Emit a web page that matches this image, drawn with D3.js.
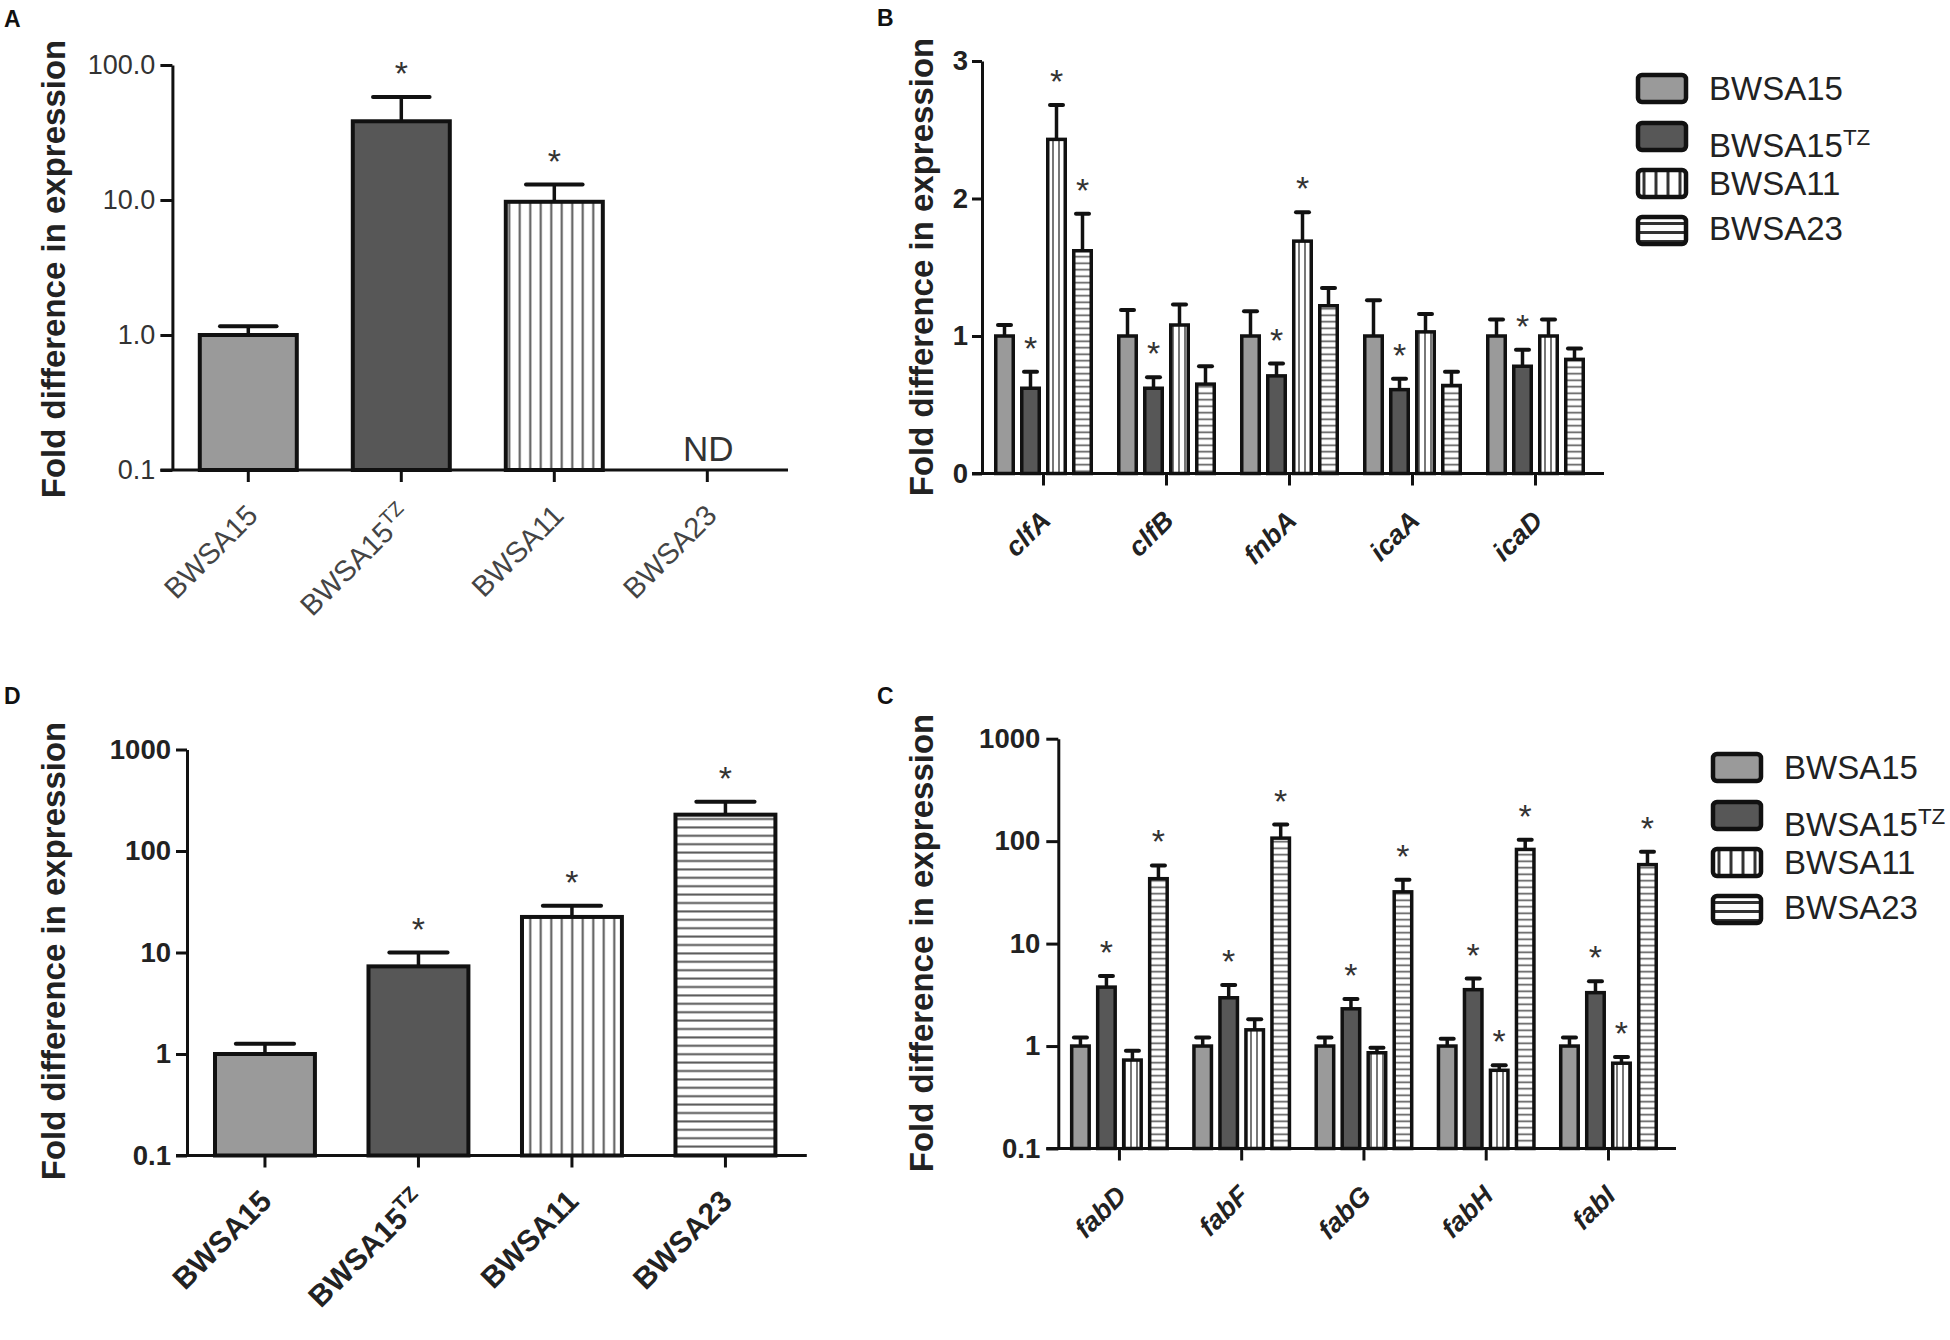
<!DOCTYPE html>
<html><head><meta charset="utf-8">
<script src="https://cdn.jsdelivr.net/npm/d3@7"></script>
<style>
body{margin:0;background:#fff}
svg{display:block}
text{font-family:"Liberation Sans",Arial,Helvetica,sans-serif}
</style>
</head><body>
<svg id="c" width="1950" height="1340"></svg>
<script>
// ---------- DATA ----------
const strains = ["BWSA15", "BWSA15TZ", "BWSA11", "BWSA23"];
const yTitle = "Fold difference in expression";

// Panel A (log scale)
const aValues = [1.0, 38.3, 9.7, null];
const aErrors = [1.16, 58, 13, null];
const aSig = [false, true, true, false];
const aTicks = [0.1, 1, 10, 100];
const aTickLabels = ["0.1", "1.0", "10.0", "100.0"];

// Panel B (linear)
const bGenes = ["clfA", "clfB", "fnbA", "icaA", "icaD"];
const bBWSA15 = [1.0, 1.0, 1.0, 1.0, 1.0];
const bBWSA15Err = [1.08, 1.19, 1.18, 1.26, 1.12];
const bTZ = [0.62, 0.62, 0.71, 0.61, 0.78];
const bTZErr = [0.74, 0.70, 0.80, 0.69, 0.90];
const bBWSA11 = [2.43, 1.08, 1.69, 1.03, 1.0];
const bBWSA11Err = [2.68, 1.23, 1.90, 1.16, 1.12];
const bBWSA23 = [1.62, 0.65, 1.22, 0.64, 0.83];
const bBWSA23Err = [1.89, 0.78, 1.35, 0.74, 0.91];
const bSig = [[false,true,true,true],[false,true,false,false],[false,true,true,false],[false,true,false,false],[false,true,false,false]];
const bTicks = [0, 1, 2, 3];
const bTickLabels = ["0", "1", "2", "3"];

// Panel C (log)
const cGenes = ["fabD", "fabF", "fabG", "fabH", "fabI"];
const cBWSA15 = [1.0, 1.0, 1.0, 1.0, 1.0];
const cBWSA15Err = [1.21, 1.21, 1.21, 1.18, 1.21];
const cTZ = [3.76, 2.96, 2.31, 3.55, 3.32];
const cTZErr = [4.83, 3.95, 2.88, 4.56, 4.3];
const cBWSA11 = [0.73, 1.44, 0.86, 0.58, 0.68];
const cBWSA11Err = [0.90, 1.83, 0.96, 0.65, 0.78];
const cBWSA23 = [43, 107, 32, 83, 59];
const cBWSA23Err = [58, 145, 42, 103, 79];
const cSig = [[false,true,false,true],[false,true,false,true],[false,true,false,true],[false,true,true,true],[false,true,true,true]];
const cTicks = [0.1, 1, 10, 100, 1000];
const cTickLabels = ["0.1", "1", "10", "100", "1000"];

// Panel D (log)
const dValues = [1.0, 7.3, 22.4, 228];
const dErrors = [1.26, 10.0, 28.9, 305];
const dSig = [false, true, true, true];
const dTicks = [0.1, 1, 10, 100, 1000];
const dTickLabels = ["0.1", "1", "10", "100", "1000"];

// ---------- DRAWING ----------
const svg = d3.select("#c");
const defs = svg.append("defs");

function makePatterns(sfx, vSp, hSp, lw, col) {
  const pv = defs.append("pattern").attr("id", "v" + sfx).attr("patternUnits", "userSpaceOnUse")
    .attr("width", vSp).attr("height", 10);
  pv.append("rect").attr("width", vSp).attr("height", 10).attr("fill", "#fff");
  pv.append("line").attr("x1", vSp / 2).attr("x2", vSp / 2).attr("y1", -1).attr("y2", 11)
    .attr("stroke", col).attr("stroke-width", lw);
  const ph = defs.append("pattern").attr("id", "h" + sfx).attr("patternUnits", "userSpaceOnUse")
    .attr("width", 10).attr("height", hSp);
  ph.append("rect").attr("width", 10).attr("height", hSp).attr("fill", "#fff");
  ph.append("line").attr("y1", hSp / 2).attr("y2", hSp / 2).attr("x1", -1).attr("x2", 11)
    .attr("stroke", col).attr("stroke-width", lw);
}
makePatterns("L", 10.5, 8.4, 2, "#555");
makePatterns("S", 6, 6.5, 1.6, "#555");
makePatterns("G", 12, 9, 3, "#333");

const fillFor = (i, s) => ["#9a9a9a", "#575757", `url(#v${s})`, `url(#h${s})`][i];

function addSuper(sel, rel) {
  sel.each(function(d) {
    const t = d3.select(this);
    const label = typeof d === "string" ? d : t.text();
    if (label.endsWith("TZ")) {
      t.text(null);
      t.append("tspan").text(label.slice(0, -2));
      t.append("tspan").attr("font-size", rel).attr("font-style", "normal").attr("dy", "-0.55em").text("TZ");
    }
  });
}

function yAxis(g, y, o) {
  const ax = g.append("g").attr("transform", `translate(${o.ax},0)`)
    .call(d3.axisLeft(y).tickValues(o.ticks).tickFormat((d, i) => o.tickLabels[i])
      .tickSize(o.tickLen).tickSizeOuter(0).tickPadding(o.tickPad));
  ax.attr("font-family", null).attr("font-size", null);
  ax.select(".domain").attr("stroke", "#111").attr("stroke-width", 3);
  ax.selectAll(".tick line").attr("stroke", "#111").attr("stroke-width", 3);
  ax.selectAll(".tick text").attr("font-size", o.tickFs).attr("fill", o.tickColor)
    .attr("font-weight", o.tickBold ? "bold" : "normal");
}

function xAxis(g, x, o, y0, ls) {
  const xa = g.append("g").attr("transform", `translate(0,${y0})`)
    .call(d3.axisBottom(x).tickSize(12).tickSizeOuter(0));
  xa.attr("font-family", null).attr("font-size", null);
  xa.select(".domain").remove();
  xa.selectAll(".tick line").attr("stroke", "#111").attr("stroke-width", 3);
  const t = xa.selectAll(".tick text")
    .attr("x", null).attr("y", null).attr("dy", "0.35em")
    .attr("text-anchor", "end")
    .attr("transform", `translate(${o.lblDx},${o.lblDy}) rotate(-45)`)
    .attr("font-size", ls.fs).attr("fill", ls.color)
    .attr("font-weight", ls.bold ? "bold" : "normal")
    .attr("font-style", ls.italic ? "italic" : "normal");
  addSuper(t, "0.68em");
  g.append("line").attr("x1", o.ax - o.tickLen).attr("x2", o.xEnd).attr("y1", y0).attr("y2", y0)
    .attr("stroke", "#111").attr("stroke-width", 3);
}

function errBar(g, cx, yTop, yErr, capHalf, lw) {
  g.append("line").attr("x1", cx).attr("x2", cx).attr("y1", yTop).attr("y2", yErr)
    .attr("stroke", "#111").attr("stroke-width", lw);
  g.append("line").attr("x1", cx - capHalf).attr("x2", cx + capHalf).attr("y1", yErr).attr("y2", yErr)
    .attr("stroke", "#111").attr("stroke-width", lw + 0.5).attr("stroke-linecap", "round");
}
function star(g, cx, yErr) {
  g.append("text").attr("x", cx).attr("y", yErr - 31 + 19).attr("text-anchor", "middle")
    .attr("font-size", 34).attr("fill", "#333").text("*");
}

function yTitleText(cx, cy) {
  svg.append("text").attr("transform", `translate(${cx},${cy}) rotate(-90)`)
    .attr("text-anchor", "middle").attr("dy", "0.35em")
    .attr("font-size", 33).attr("font-weight", "bold").attr("fill", "#222").text(yTitle);
}
function panelLetter(x, y, l) {
  svg.append("text").attr("x", x).attr("y", y).attr("font-size", 23).attr("font-weight", "bold")
    .attr("fill", "#111").text(l);
}

function simplePanel(o, values, errors, sig) {
  const g = svg.append("g");
  const y = d3.scaleLog().domain(o.domain).range(o.yRange);
  const x = d3.scaleBand().domain(strains).range(o.xRange).paddingInner(o.pi).paddingOuter(o.po);
  const y0 = o.yRange[0];
  const bw = x.bandwidth();
  strains.forEach((s, i) => {
    if (values[i] == null) return;
    const cx = x(s) + bw / 2;
    errBar(g, cx, y(values[i]), y(errors[i]), 0.28 * (bw + 4), 3.5);
    g.append("rect").attr("x", x(s)).attr("width", bw).attr("y", y(values[i]))
      .attr("height", y0 - y(values[i])).attr("fill", fillFor(i, "L"))
      .attr("stroke", "#111").attr("stroke-width", 4);
    if (sig[i]) star(g, cx, y(errors[i]));
  });
  yAxis(g, y, o);
  xAxis(g, x, o, y0, o.xLabel);
  return x;
}

function groupedPanel(o, genes, series, errs, sig) {
  const g = svg.append("g");
  const y = (o.log ? d3.scaleLog() : d3.scaleLinear()).domain(o.domain).range(o.yRange);
  const x = d3.scaleBand().domain(genes).range(o.xRange).paddingInner(0).paddingOuter(0);
  const xi = d3.scaleBand().domain(strains).range([-o.groupW / 2, o.groupW / 2]).paddingInner(0.327);
  const y0 = o.yRange[0];
  const bw = xi.bandwidth();
  genes.forEach((gene, j) => {
    const gc = x(gene) + x.bandwidth() / 2;
    strains.forEach((s, i) => {
      const v = series[i][j], e = errs[i][j];
      const bx = gc + xi(s);
      const cx = bx + bw / 2;
      errBar(g, cx, y(v), y(e), 0.31 * (bw + 3.5), 3.5);
      g.append("rect").attr("x", bx).attr("width", bw).attr("y", y(v))
        .attr("height", y0 - y(v)).attr("fill", fillFor(i, "S"))
        .attr("stroke", "#111").attr("stroke-width", 3.5);
      if (sig[j][i]) star(g, cx, y(e));
    });
  });
  yAxis(g, y, o);
  xAxis(g, x, o, y0, o.xLabel);
}

function legend(x0, y0) {
  const g = svg.append("g").attr("transform", `translate(${x0},${y0})`);
  const boxTop = [0, 48, 95, 142];
  const base = [25, 82, 120, 165];
  strains.forEach((s, i) => {
    g.append("rect").attr("x", 0).attr("y", boxTop[i]).attr("width", 48).attr("height", 27)
      .attr("rx", 4).attr("fill", fillFor(i, "G")).attr("stroke", "#111").attr("stroke-width", 4.5);
    const t = g.append("text").attr("x", 71).attr("y", base[i]).attr("font-size", 33)
      .attr("fill", "#222").text(s);
    addSuper(t, "0.68em");
  });
}

// Panel A
const xA = simplePanel({
  domain: [0.1, 100], yRange: [470, 65], xRange: [172.4, 783.2], pi: 0.366, po: 0.179,
  ax: 172.4, xEnd: 788, ticks: aTicks, tickLabels: aTickLabels, tickLen: 12, tickPad: 5,
  tickFs: 27, tickBold: false, tickColor: "#333", lblDx: 4, lblDy: 40,
  xLabel: {fs: 29, bold: false, italic: false, color: "#444"}
}, aValues, aErrors, aSig);
// ND marker for BWSA23 (not detected)
svg.append("text").attr("x", xA("BWSA23") + xA.bandwidth() / 2 + 1).attr("y", 461)
  .attr("text-anchor", "middle").attr("font-size", 35).attr("fill", "#333").text("ND");

// Panel D
simplePanel({
  domain: [0.1, 1000], yRange: [1155.5, 749.5], xRange: [186.6, 803.8], pi: 0.349, po: 0.185,
  ax: 187, xEnd: 806.8, ticks: dTicks, tickLabels: dTickLabels, tickLen: 11, tickPad: 5,
  tickFs: 27.5, tickBold: true, tickColor: "#222", lblDx: 1, lblDy: 40,
  xLabel: {fs: 30, bold: true, italic: false, color: "#222"}
}, dValues, dErrors, dSig);

// Panel B
groupedPanel({
  log: false, domain: [0, 3], yRange: [473.5, 61], xRange: [982, 1597], groupW: 95.5,
  ax: 982, xEnd: 1604, ticks: bTicks, tickLabels: bTickLabels, tickLen: 10, tickPad: 4,
  tickFs: 27.5, tickBold: true, tickColor: "#222", lblDx: 2, lblDy: 42,
  xLabel: {fs: 27, bold: true, italic: true, color: "#222"}
}, bGenes, [bBWSA15, bTZ, bBWSA11, bBWSA23], [bBWSA15Err, bTZErr, bBWSA11Err, bBWSA23Err], bSig);

// Panel C
groupedPanel({
  log: true, domain: [0.1, 1000], yRange: [1148.5, 738.7], xRange: [1058.3, 1669.6], groupW: 95.5,
  ax: 1058.3, xEnd: 1676, ticks: cTicks, tickLabels: cTickLabels, tickLen: 12, tickPad: 6,
  tickFs: 27.5, tickBold: true, tickColor: "#222", lblDx: 2, lblDy: 42,
  xLabel: {fs: 27, bold: true, italic: true, color: "#222"}
}, cGenes, [cBWSA15, cTZ, cBWSA11, cBWSA23], [cBWSA15Err, cTZErr, cBWSA11Err, cBWSA23Err], cSig);

legend(1638, 75);
legend(1713, 754);

yTitleText(53, 269);
yTitleText(921, 267);
yTitleText(53, 951);
yTitleText(921, 943);

panelLetter(4, 27, "A");
panelLetter(877, 26, "B");
panelLetter(4, 704, "D");
panelLetter(877, 704, "C");
</script>
</body></html>
